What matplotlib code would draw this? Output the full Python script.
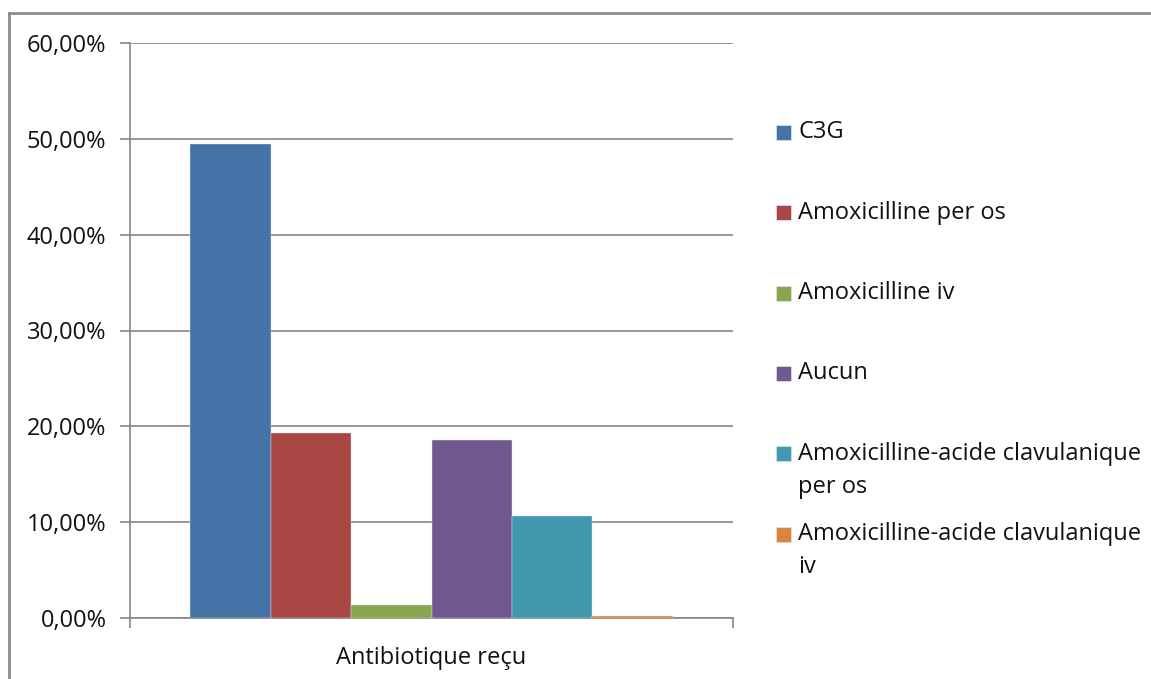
import matplotlib.pyplot as plt
from matplotlib.patches import Rectangle
from matplotlib.lines import Line2D
from matplotlib.ticker import FuncFormatter, MultipleLocator

plt.rcParams["font.family"] = ["Open Sans", "DejaVu Sans"]

category = "Antibiotique reçu"
series = [
    "C3G",
    "Amoxicilline per os",
    "Amoxicilline iv",
    "Aucun",
    "Amoxicilline-acide clavulanique\nper os",
    "Amoxicilline-acide clavulanique\niv",
]
values = [49.5, 19.3, 1.4, 18.6, 10.6, 0.25]
colors = ["#4572A7", "#AA4643", "#89A54E", "#71588F", "#4198AF", "#DB843D"]

W, H = 1151, 679
grid_gray = "#868686"
text_col = "#111111"
fs = 17


def px(x, y):
    # pixel position -> figure coords
    return x / W, 1 - y / H


fig = plt.figure(figsize=(W / 100, H / 100), dpi=100)
l, b = px(130, 618)
r, t = px(733, 43)
ax = fig.add_axes([l, b, r - l, t - b])

n = len(values)
width = 1 / (n + 1.5)
for i, (v, c) in enumerate(zip(values, colors)):
    xpos = (i - (n - 1) / 2) * width
    ax.bar(xpos, v, width=width, color=c, edgecolor="#dde4ee", linewidth=0.3, zorder=3)

ax.set_xlim(-0.5, 0.5)
ax.set_ylim(0, 60)
ax.yaxis.set_major_locator(MultipleLocator(10))
ax.yaxis.set_major_formatter(FuncFormatter(lambda v, p: f"{v:.2f}%".replace(".", ",")))
ax.grid(axis="y", color=grid_gray, linewidth=1.2, zorder=0)

# category boundary ticks, category label in the middle
ax.set_xticks([-0.5, 0.5])
ax.set_xticklabels(["", ""])
ax.set_xticks([0], [category], minor=True)
ax.tick_params(axis="x", which="major", direction="out", length=7, color=grid_gray, width=1.2)
ax.tick_params(axis="x", which="minor", length=0, pad=20, labelsize=fs, labelcolor=text_col)
ax.tick_params(axis="y", direction="out", length=7, color=grid_gray, width=1.2,
               pad=10, labelsize=fs, labelcolor=text_col)

for s in ["top", "right"]:
    ax.spines[s].set_visible(False)
for s in ["left", "bottom"]:
    ax.spines[s].set_color(grid_gray)
    ax.spines[s].set_linewidth(1.2)

# legend drawn as in the spreadsheet: fixed pitch, wrapped labels hang below
y0, pitch = 132.5, 80.3
for i, (lab, c) in enumerate(zip(series, colors)):
    yc = y0 + i * pitch
    sx, sy = px(776, yc + 7.5)
    fig.add_artist(Rectangle((sx, sy), 15 / W, 15 / H, transform=fig.transFigure,
                             facecolor=c, edgecolor="#dde4ee", linewidth=0.5))
    tx, ty = px(798, yc - 12)
    fig.text(tx, ty, lab, fontsize=fs, va="top", ha="left", color=text_col,
             linespacing=1.5)

# chart outer border (left and top visible)
bx, by = px(9, 13)
fig.add_artist(Line2D([bx, bx], [0, by], transform=fig.transFigure, color="#8c8c8c", linewidth=2))
fig.add_artist(Line2D([bx, 1], [by, by], transform=fig.transFigure, color="#8c8c8c", linewidth=2))

fig.savefig("out.png", dpi=100)
